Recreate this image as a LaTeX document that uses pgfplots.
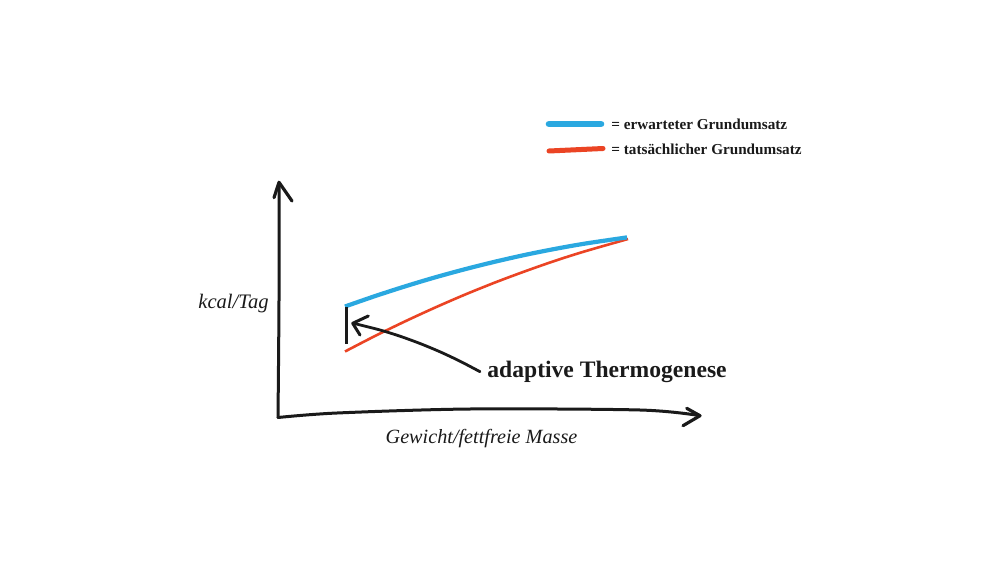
\documentclass[border=0pt]{standalone}
\usepackage{fontspec}
\setmainfont{Liberation Serif}
\usepackage{pgfplots}
\pgfplotsset{compat=1.18}
\definecolor{cblue}{HTML}{2AA8E0}
\definecolor{cred}{HTML}{EB4424}
\definecolor{cink}{HTML}{1A1A1A}
\begin{document}
\begin{tikzpicture}
\begin{axis}[
  scale only axis, width=500pt, height=281.5pt,
  xmin=0, xmax=1000, ymin=0, ymax=563,
  hide axis, clip=false,
]
\fill[white] (axis cs:0,0) rectangle (axis cs:1000,563);
% hand-drawn axes
\addplot[cink, line width=1.5pt, smooth, line cap=round] coordinates {(279,380) (279,263) (278,145.5)};
\addplot[cink, line width=1.5pt, smooth, line cap=round] coordinates {(278,145.5) (337,150) (470,154) (640,153) (699,147.5)};
\addplot[cink, line width=1.6pt, line cap=round, line join=round] coordinates {(274,365.3) (279,380.7) (292,362)};
\addplot[cink, line width=1.6pt, line cap=round, line join=round] coordinates {(686.7,154.7) (700,147.3) (683,137.3)};
% series
\addplot[cred, line width=1.3pt, smooth] coordinates {(345,211.5) (375,227.0) (405,241.6) (435,255.4) (465,268.4) (495,280.5) (525,291.7) (555,302.2) (585,311.7) (628,324.0)};
\addplot[cblue, line width=2.1pt, smooth] coordinates {(345,256.5) (375,266.9) (405,276.6) (435,285.6) (465,293.8) (495,301.3) (525,308.1) (555,314.1) (585,319.4) (627,325.6)};
% adaptive thermogenesis marker
\addplot[cink, line width=1.5pt] coordinates {(346.5,256) (346.5,219)};
\addplot[cink, line width=1.4pt, smooth, line cap=round] coordinates {(480,191.3) (460,201.8) (440,211.2) (420,219.5) (400,226.8) (380,233.0) (354,239.6)};
\addplot[cink, line width=1.5pt, line cap=round, line join=round] coordinates {(368.3,247) (352.7,239.7) (360,228)};
\node[anchor=base west, inner sep=0, font=\fontsize{11.8pt}{13pt}\selectfont\bfseries, text=cink] at (axis cs:487,186) {adaptive Thermogenese};
% axis labels
\node[anchor=base, inner sep=0, font=\fontsize{10.3pt}{12pt}\selectfont\itshape, text=cink] at (axis cs:233.5,255) {kcal/Tag};
\node[anchor=base, inner sep=0, font=\fontsize{10.1pt}{12pt}\selectfont\itshape, text=cink] at (axis cs:481.5,120) {Gewicht/fettfreie Masse};
% legend
\addplot[cblue, line width=3.3pt, line cap=round] coordinates {(549,439) (601,439)};
\addplot[cred, line width=2.5pt, line cap=round] coordinates {(549,412) (603,414.5)};
\node[anchor=base west, inner sep=0, font=\fontsize{7.6pt}{9pt}\selectfont\bfseries, text=cink] at (axis cs:611,433.7) {= erwarteter Grundumsatz};
\node[anchor=base west, inner sep=0, font=\fontsize{7.6pt}{9pt}\selectfont\bfseries, text=cink] at (axis cs:611,408) {= tatsächlicher Grundumsatz};
\end{axis}
\end{tikzpicture}
\end{document}
